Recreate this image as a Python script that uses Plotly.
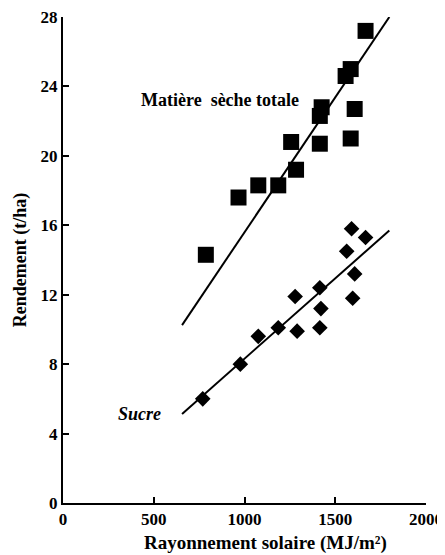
import plotly.graph_objects as go

# Matière sèche totale (squares)
msx = [787, 967, 1076, 1186, 1284, 1257, 1415, 1415, 1425, 1557, 1585, 1607, 1585, 1667]
msy = [14.3, 17.6, 18.3, 18.3, 19.2, 20.8, 20.7, 22.3, 22.8, 24.6, 25.0, 22.7, 21.0, 27.2]
# Sucre (diamonds)
sux = [770, 977, 1076, 1186, 1279, 1290, 1415, 1421, 1415, 1596, 1607, 1590, 1563, 1667]
suy = [6.0, 8.0, 9.6, 10.1, 11.9, 9.9, 12.4, 11.2, 10.1, 11.8, 13.2, 15.8, 14.5, 15.3]
# regression lines (endpoints)
line_x = [656, 1798]
ms_line_y = [10.25, 28.0]
su_line_y = [5.13, 15.7]

xticks = [0, 500, 1000, 1500, 2000]
yticks = [0, 4, 8, 12, 16, 20, 24, 28]

FONT = "Liberation Serif"

fig = go.Figure()
fig.add_trace(go.Scatter(x=line_x, y=ms_line_y, mode="lines",
                         line=dict(color="black", width=2), showlegend=False))
fig.add_trace(go.Scatter(x=line_x, y=su_line_y, mode="lines",
                         line=dict(color="black", width=2), showlegend=False))
fig.add_trace(go.Scatter(x=msx, y=msy, mode="markers",
                         marker=dict(symbol="square", size=16, color="black"),
                         showlegend=False))
fig.add_trace(go.Scatter(x=sux, y=suy, mode="markers",
                         marker=dict(symbol="diamond", size=12, color="black"),
                         showlegend=False))

fig.add_annotation(x=863, y=23.2, text="<b>Matière  sèche totale</b>", showarrow=False,
                   font=dict(family=FONT, size=18, color="black"))
fig.add_annotation(x=420, y=5.1, text="<b><i>Sucre</i></b>", showarrow=False,
                   font=dict(family=FONT, size=18, color="black"))
# x-axis title (offset to the right as in the original)
fig.add_annotation(xref="paper", yref="paper", x=0.559, y=0, yanchor="middle",
                   yshift=-40, showarrow=False,
                   text="<b>Rayonnement solaire (MJ/m²)</b>",
                   font=dict(family=FONT, size=19, color="black"))

# page has an 8px body margin, so the figure is shrunk by 8px to fit the window
fig.update_layout(
    width=437, height=547,
    margin=dict(l=55, r=19, t=9, b=52),
    paper_bgcolor="white", plot_bgcolor="white",
    font=dict(family=FONT, size=17, color="black"),
    xaxis=dict(range=[0, 2000], tickvals=xticks, automargin=False,
               ticktext=[f"<b>{v}</b>" for v in xticks], ticklabeloverflow="allow",
               showgrid=False, zeroline=False, showline=True, linecolor="black",
               linewidth=2, ticks="inside", ticklen=6, tickwidth=2, tickcolor="black"),
    yaxis=dict(range=[0, 28], tickvals=yticks, automargin=False,
               ticktext=[f"<b>{v}</b>" for v in yticks], ticklabeloverflow="allow",
               showgrid=False, zeroline=False, showline=True, linecolor="black",
               linewidth=2, ticks="inside", ticklen=6, tickwidth=2, tickcolor="black",
               title=dict(text="<b>Rendement (t/ha)</b>", standoff=9,
                          font=dict(family=FONT, size=18))),
)

fig.write_html("out.html")
